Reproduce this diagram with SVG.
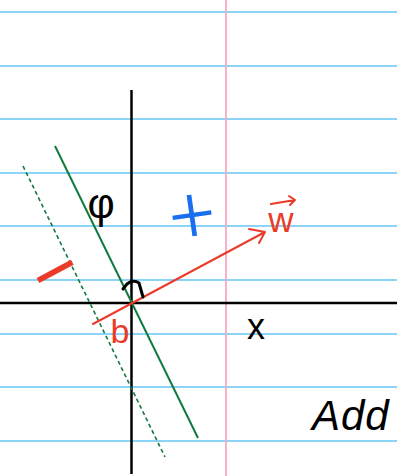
<svg xmlns="http://www.w3.org/2000/svg" width="397" height="476" viewBox="0 0 397 476">
<style>
.rule{stroke:#8bd3f7;stroke-width:2}
.axis{stroke:#000;stroke-width:2.5;fill:none}
.red{stroke:#ec3a2a;stroke-width:2;fill:none;stroke-linecap:round;stroke-linejoin:round}
.ink{font-family:"Liberation Sans","DejaVu Sans",sans-serif}
</style>
<rect width="397" height="476" fill="#fff"/>
<g id="paper">
<line class="rule" x1="0" y1="12" x2="397" y2="12"/>
<line class="rule" x1="0" y1="66" x2="397" y2="66"/>
<line class="rule" x1="0" y1="119" x2="397" y2="119"/>
<line class="rule" x1="0" y1="173" x2="397" y2="173"/>
<line class="rule" x1="0" y1="226" x2="397" y2="226"/>
<line class="rule" x1="0" y1="280" x2="397" y2="280"/>
<line class="rule" x1="0" y1="334" x2="397" y2="334"/>
<line class="rule" x1="0" y1="387" x2="397" y2="387"/>
<line class="rule" x1="0" y1="441" x2="397" y2="441"/>
<line x1="226" y1="0" x2="226" y2="476" stroke="#f6a9c2" stroke-width="1.8"/>
</g>
<g id="axes">
<line class="axis" x1="131.5" y1="90" x2="131.5" y2="474"/>
<line class="axis" x1="0" y1="303" x2="397" y2="303"/>
</g>
<g id="lines">
<line x1="55" y1="146" x2="198" y2="438" stroke="#117a3e" stroke-width="2"/>
<line x1="23" y1="166" x2="165" y2="457" stroke="#117a3e" stroke-width="1.6" stroke-dasharray="4 3"/>
<path class="red" d="M93,324 L265,232 M249,229 L265,232 L259,243"/>
<path d="M123,289 L127,284 Q133,279 139,283 L143,297" fill="none" stroke="#000" stroke-width="3" stroke-linecap="round" stroke-linejoin="round"/>
</g>
<g id="labels">
<text class="ink" x="101" y="218" font-size="42" text-anchor="middle" fill="#000">φ</text>
<text x="192" y="242" font-size="80" font-weight="300" text-anchor="middle" fill="#1a6ef0" font-family="Roboto,'DejaVu Sans',sans-serif" transform="rotate(-8 192 214)">+</text>
<text class="ink" x="281" y="232" font-size="35" text-anchor="middle" fill="#ec3a2a">w</text>
<path class="red" d="M271,204 L295,200 M289,196 L295,200 L290,205"/>
<text class="ink" x="120" y="343" font-size="34" text-anchor="middle" fill="#ec3a2a">b</text>
<text class="ink" x="256" y="339" font-size="36" text-anchor="middle" fill="#000">x</text>
<text class="ink" x="55" y="298" font-size="80" text-anchor="middle" fill="#ec3a2a" transform="rotate(-28 55 271)">−</text>
<text class="ink" x="312" y="430" font-size="42" font-style="italic" letter-spacing="1" fill="#000">Add</text>
</g>
</svg>
